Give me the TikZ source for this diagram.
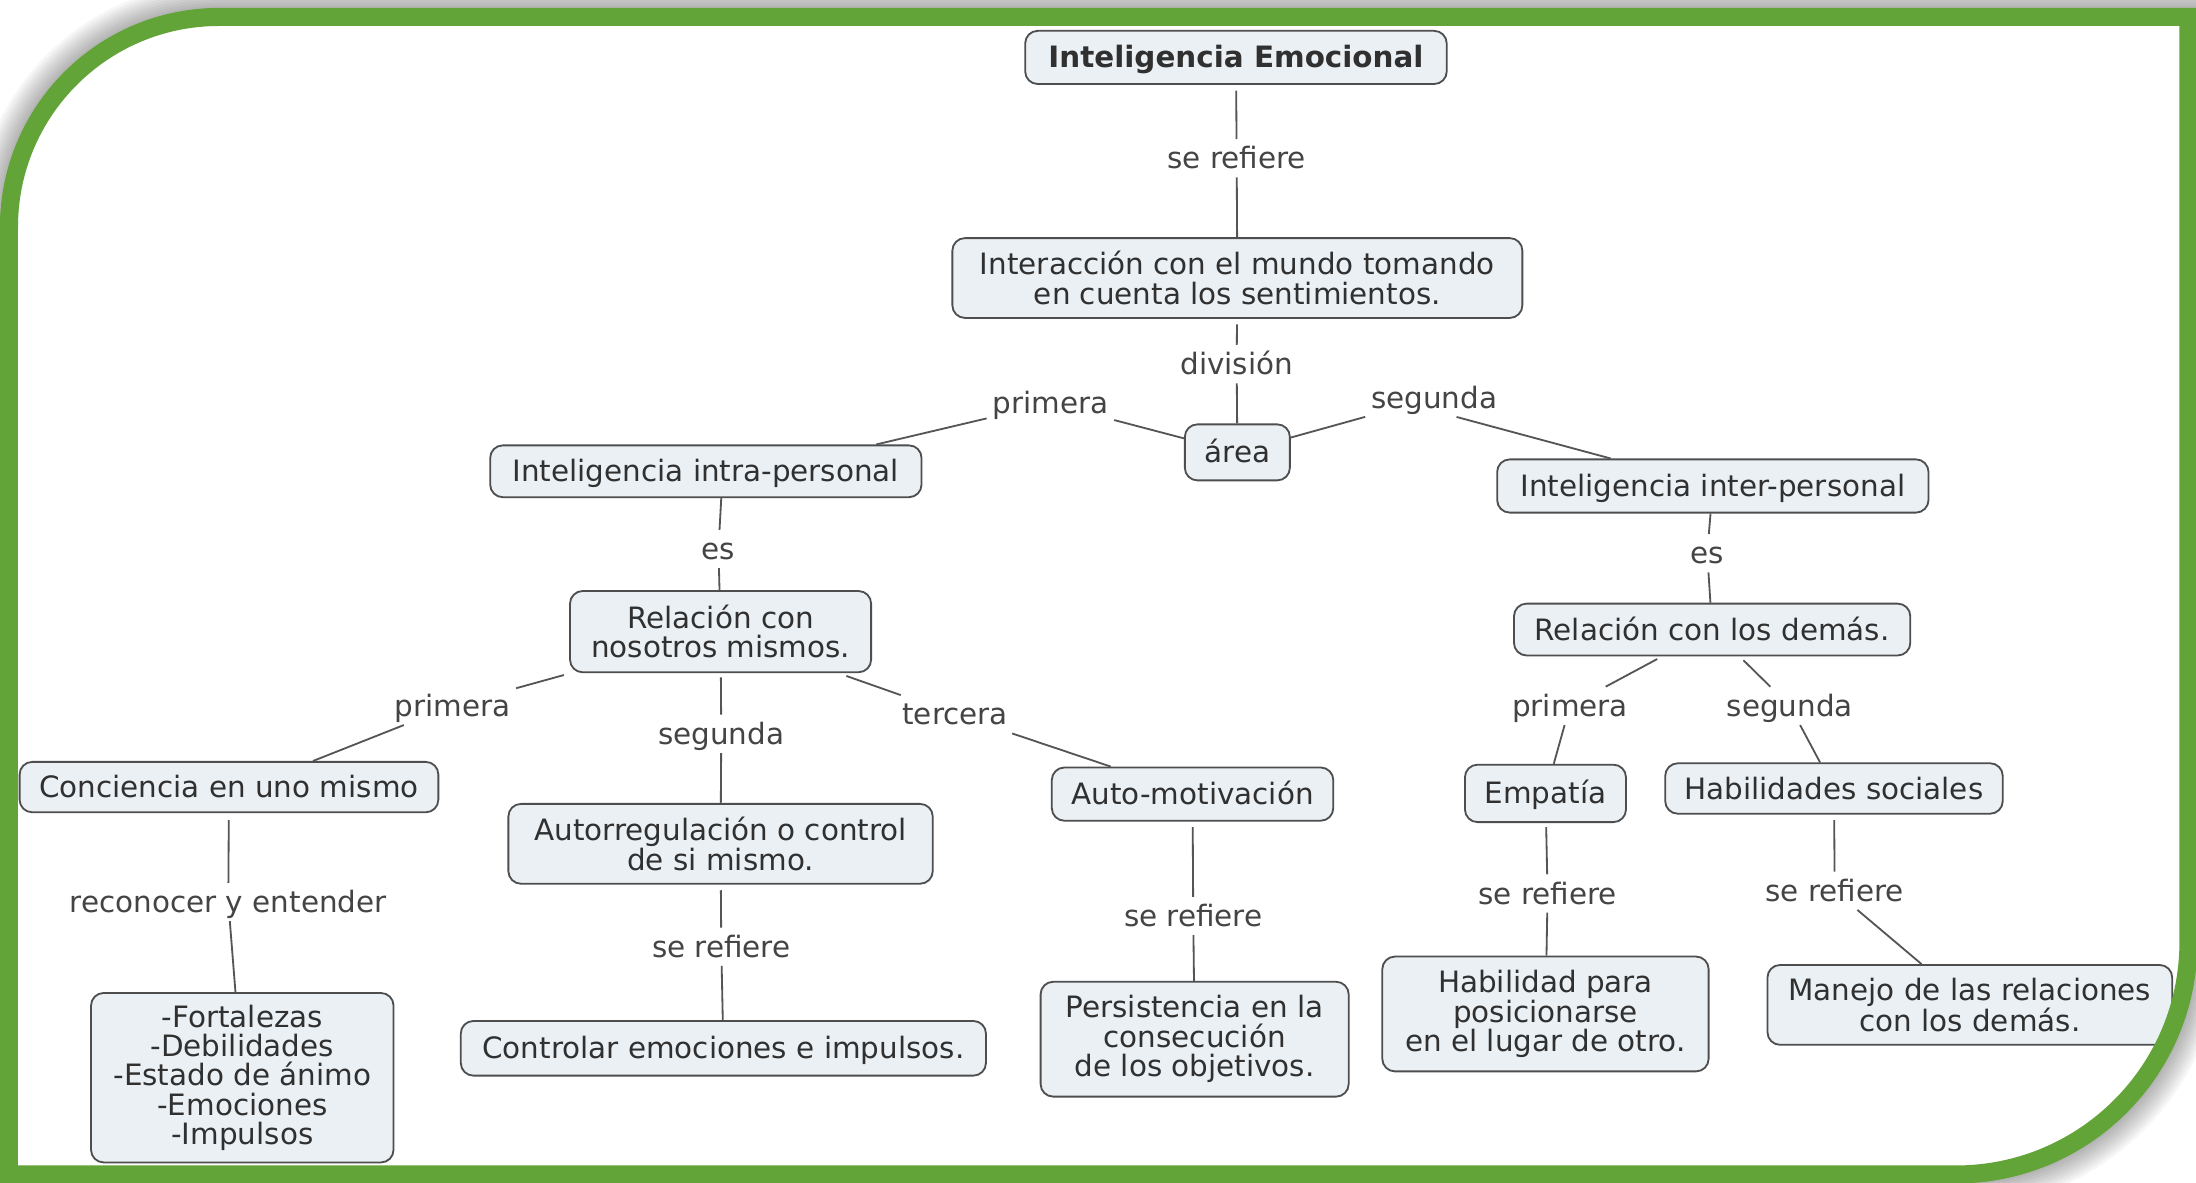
\documentclass[tikz,border=0pt]{standalone}
\usepackage{fontspec}
\setmainfont{DejaVu Sans}
\usetikzlibrary{calc}
\definecolor{framegreen}{RGB}{98,164,56}
\definecolor{boxfill}{RGB}{234,240,244}
\definecolor{boxline}{RGB}{78,78,78}
\definecolor{conline}{RGB}{85,85,85}
\definecolor{txt}{RGB}{48,48,48}
\definecolor{labtxt}{RGB}{68,68,68}
\newcommand\frameshape[1]{\path[#1] (6.4,838.6) -- (6.4,162.1) arc[start angle=180,end angle=270,radius=150] -- (1562.6,12.1) -- (1562.6,672.6) arc[start angle=0,end angle=90,radius=166] -- cycle;}
\begin{document}
\begin{tikzpicture}[x=1pt,y=-1pt,
  concept/.style={draw=boxline, fill=boxfill, line width=1.3pt, rounded corners=9pt,
    align=center, text=txt, font=\fontsize{21}{21}\selectfont, inner sep=0pt},
  one/.style={text height=17pt, text depth=2pt},
  link/.style={text=labtxt, font=\fontsize{21}{21}\selectfont, inner sep=4pt,
    text height=17pt, text depth=2pt},
  conn/.style={draw=conline, line width=1.3pt}
]
\useasboundingbox (0,0) rectangle (1568,844);
\fill[white] (0,0) rectangle (1568,844);
\foreach \w in {16,20,...,48} {\frameshape{draw=black, draw opacity=0.035, line width=\w pt}}
\frameshape{fill=white}

% concepts
\node[concept, one, minimum width=301pt, minimum height=38pt, font=\bfseries\fontsize{21}{21}\selectfont] (ie) at (882.5,41) {Inteligencia Emocional};
\node[concept, minimum width=407pt, minimum height=57pt] (inter1) at (883.5,198.5) {Interacción con el mundo tomando\\en cuenta los sentimientos.};
\node[concept, one, minimum width=75pt, minimum height=40pt] (area) at (883.5,323) {área};
\node[concept, one, minimum width=308pt, minimum height=37pt] (intra) at (504,336.5) {Inteligencia intra-personal};
\node[concept, one, minimum width=308pt, minimum height=38pt] (interp) at (1223,347) {Inteligencia inter-personal};
\node[concept, minimum width=215pt, minimum height=58pt] (relnos) at (514.5,451) {Relación con\\nosotros mismos.};
\node[concept, one, minimum width=283pt, minimum height=37pt] (reldem) at (1222.5,449.5) {Relación con los demás.};
\node[concept, one, minimum width=299pt, minimum height=36pt] (conc) at (163.5,562) {Conciencia en uno mismo};
\node[concept, minimum width=303pt, minimum height=57pt] (autoreg) at (514.5,602.5) {Autorregulación o control\\de si mismo.};
\node[concept, one, minimum width=201pt, minimum height=38pt] (automot) at (851.5,567) {Auto-motivación};
\node[concept, one, minimum width=115pt, minimum height=41pt] (empatia) at (1103.5,566.5) {Empatía};
\node[concept, one, minimum width=241pt, minimum height=36pt] (habsoc) at (1309.5,563) {Habilidades sociales};
\node[concept, minimum width=216pt, minimum height=121pt] (fort) at (173,769.5) {-Fortalezas\\-Debilidades\\-Estado de ánimo\\-Emociones\\-Impulsos};
\node[concept, one, minimum width=375pt, minimum height=39pt] (controlar) at (516.5,748.5) {Controlar emociones e impulsos.};
\node[concept, minimum width=220pt, minimum height=82pt] (persist) at (853,742) {Persistencia en la\\consecución\\de los objetivos.};
\node[concept, minimum width=233pt, minimum height=82pt] (habil) at (1103.5,724) {Habilidad para\\posicionarse\\en el lugar de otro.};
\node[concept, minimum width=289pt, minimum height=57pt] (manejo) at (1406.5,717.5) {Manejo de las relaciones\\con los demás.};

% linking phrases
\node[link] (l1) at (883,113) {se refiere};
\node[link] (l2) at (883,260) {división};
\node[link] (l3) at (750,288) {primera};
\node[link] (l4) at (1024,284) {segunda};
\node[link] (l5) at (513,392) {es};
\node[link] (l6) at (1219,395) {es};
\node[link] (l7) at (323,504) {primera};
\node[link] (l8) at (515,524) {segunda};
\node[link] (l9) at (682,510) {tercera};
\node[link] (l10) at (1121,504) {primera};
\node[link] (l11) at (1278,504) {segunda};
\node[link] (l12) at (163,644) {reconocer y entender};
\node[link] (l13) at (515,676) {se refiere};
\node[link] (l14) at (852,654) {se refiere};
\node[link] (l15) at (1105,638) {se refiere};
\node[link] (l16) at (1310,636) {se refiere};

% connectors
\draw[conn, shorten <=4pt] (ie) -- (l1);
\draw[conn] (l1) -- (inter1);
\draw[conn, shorten <=4pt] (inter1) -- (l2);
\draw[conn] (l2) -- (area);
\draw[conn] (area) -- (l3);
\draw[conn] (l3) -- ([xshift=-33pt]intra.north east);
\draw[conn] (area) -- (l4);
\draw[conn] ([xshift=16pt]l4.south) -- ([xshift=-73pt]interp.north);
\draw[conn] ([xshift=11pt]intra.south) -- (l5);
\draw[conn] (l5) -- (relnos);
\draw[conn] (interp) -- (l6);
\draw[conn] (l6) -- (reldem);
\draw[conn, shorten <=5pt] (relnos) -- (l7);
\draw[conn] (l7) -- ([xshift=60pt]conc.north);
\draw[conn, shorten <=3pt] (relnos) -- (l8);
\draw[conn] (l8) -- (autoreg);
\draw[conn, shorten <=6pt] (relnos) -- (l9);
\draw[conn] (l9) -- (automot);
\draw[conn, shorten <=4pt] (reldem) -- (l10);
\draw[conn] (l10) -- (empatia);
\draw[conn, shorten <=4pt] (reldem) -- (l11);
\draw[conn] (l11) -- (habsoc);
\draw[conn, shorten <=5pt] (conc) -- (l12);
\draw[conn] (l12) -- (fort);
\draw[conn, shorten <=4pt] (autoreg) -- (l13);
\draw[conn] (l13) -- (controlar);
\draw[conn, shorten <=4pt] (automot) -- (l14);
\draw[conn] (l14) -- (persist);
\draw[conn, shorten <=3pt] (empatia) -- (l15);
\draw[conn] (l15) -- (habil);
\draw[conn, shorten <=4pt] (habsoc) -- (l16);
\draw[conn] (l16) -- (manejo);

% frame on top
\frameshape{draw=framegreen, line width=12.9pt}
\end{tikzpicture}
\end{document}
